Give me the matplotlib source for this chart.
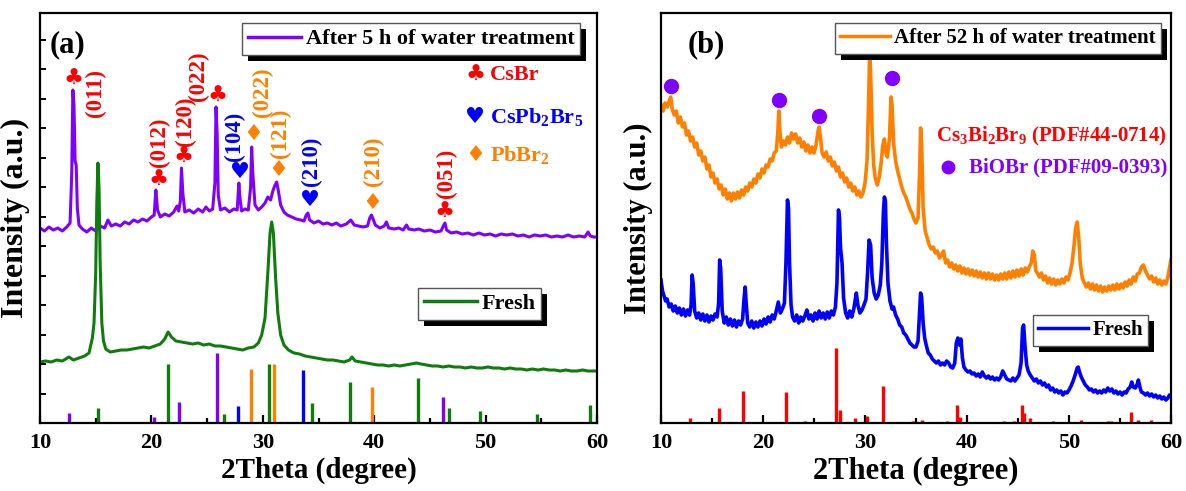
import matplotlib
matplotlib.use("Agg")
import matplotlib.pyplot as plt
from matplotlib.ticker import MultipleLocator, NullFormatter
from matplotlib.patches import Rectangle
from matplotlib.transforms import IdentityTransform

plt.rcParams['font.family'] = ['Liberation Serif', 'DejaVu Sans']
plt.rcParams['font.weight'] = 'bold'
plt.rcParams['mathtext.fontset'] = 'custom'
plt.rcParams['mathtext.rm'] = 'Liberation Serif:bold'
plt.rcParams['mathtext.bf'] = 'Liberation Serif:bold'
plt.rcParams['mathtext.it'] = 'Liberation Serif:bold'

PURPLE = '#7F00FF'
GREEN = '#0E7D0E'
ORANGE = '#FF8000'
BLUE = '#0000FF'
RED = '#FF0000'
SYMFONT = ['DejaVu Sans']

# ---------------- Panel (a) data ----------------
a_water_x = [10.0, 10.4, 10.8, 11.2, 11.6, 12.0, 12.4, 12.7, 12.85, 12.95, 13.05, 13.15, 13.25, 13.35, 13.5,
             13.8, 14.2, 14.6, 15.0, 15.4, 15.8, 16.1, 16.4, 16.8, 17.2, 17.6, 18.0, 18.4, 18.8, 19.2, 19.6,
             20.0, 20.25, 20.4, 20.55, 20.8, 21.2, 21.6, 22.0, 22.3, 22.45, 22.6, 22.7, 22.82, 23.0, 23.4,
             23.8, 24.2, 24.6, 24.9, 25.2, 25.5, 25.7, 25.8, 25.9, 26.0, 26.2, 26.6, 27.0, 27.4, 27.7, 27.85,
             27.95, 28.1, 28.4, 28.7, 28.9, 29.0, 29.1, 29.3, 29.6, 29.9, 30.2, 30.45, 30.7, 30.9, 31.1, 31.25,
             31.4, 31.6, 31.9, 32.2, 32.6, 33.0, 33.4, 33.7, 33.9, 34.05, 34.2, 34.6, 35.0, 35.4, 35.8, 36.2,
             36.6, 37.0, 37.5, 37.9, 38.2, 38.6, 39.0, 39.4, 39.6, 39.75, 39.9, 40.1, 40.5, 40.9, 41.1, 41.3,
             41.8, 42.2, 42.6, 42.9, 43.1, 43.6, 44.0, 44.5, 45.0, 45.5, 46.0, 46.2, 46.35, 46.5, 46.9, 47.4,
             47.9, 48.4, 48.9, 49.4, 49.9, 50.4, 50.9, 51.4, 51.9, 52.4, 52.9, 53.4, 53.9, 54.4, 54.9, 55.4,
             55.9, 56.4, 56.9, 57.4, 57.9, 58.4, 58.9, 59.2, 59.4, 59.7, 60.0]
a_water_y = [195, 192, 196, 193, 195, 192, 196, 200, 250, 333, 318, 262, 258, 215, 198,
             194, 191, 195, 192, 197, 195, 203, 197, 199, 197, 201, 199, 203, 201, 204, 202,
             206, 208, 233, 213, 206, 209, 207, 211, 217, 212, 222, 255, 230, 211, 213,
             210, 214, 211, 216, 212, 214, 240, 316, 290, 228, 213, 215, 211, 214, 213, 240,
             225, 212, 214, 213, 235, 276, 250, 218, 213, 216, 220, 226, 223, 232, 238, 241,
             232, 218, 211, 208, 206, 204, 203, 202, 208, 210, 203, 200, 202, 199, 200, 198,
             200, 197, 199, 203, 198, 197, 196, 197, 205, 208, 204, 198, 195, 197, 201, 195,
             194, 195, 193, 198, 194, 193, 194, 192, 193, 191, 192, 197, 200, 193, 190, 191,
             189, 190, 188, 190, 188, 189, 187, 189, 188, 189, 187, 188, 186, 188, 187, 188,
             186, 187, 186, 188, 186, 187, 186, 191, 187, 186, 186]

a_fresh_x = [10.0, 10.5, 11.0, 11.5, 12.0, 12.6, 13.0, 13.5, 14.0, 14.4, 14.7, 14.85, 15.0, 15.1, 15.2,
             15.3, 15.4, 15.55, 15.7, 15.9, 16.3, 16.8, 17.3, 17.8, 18.3, 18.8, 19.3, 19.8, 20.3, 20.8,
             21.2, 21.5, 21.8, 22.2, 22.7, 23.2, 23.7, 24.2, 24.7, 25.2, 25.7, 26.2, 26.7, 27.2, 27.7,
             28.2, 28.7, 29.2, 29.6, 29.9, 30.2, 30.45, 30.65, 30.8, 30.95, 31.15, 31.35, 31.6, 31.9,
             32.3, 32.8, 33.3, 33.8, 34.3, 34.8, 35.3, 35.8, 36.3, 36.8, 37.3, 37.8, 38.0, 38.3, 38.8,
             39.3, 39.8, 40.3, 40.8, 41.3, 41.8, 42.3, 42.8, 43.3, 43.8, 44.2, 44.7, 45.2, 45.7, 46.2,
             46.7, 47.2, 47.7, 48.2, 48.7, 49.2, 49.7, 50.2, 50.7, 51.2, 51.7, 52.2, 52.7, 53.2, 53.7,
             54.2, 54.7, 55.2, 55.7, 56.2, 56.7, 57.2, 57.7, 58.2, 58.7, 59.2, 59.7, 60.0]
a_fresh_y = [61, 62, 61, 63, 62, 66, 63, 65, 67, 70, 85, 100, 150, 220, 260,
             235, 160, 100, 82, 74, 71, 72, 73, 73, 74, 75, 76, 75, 77, 79,
             84, 91, 86, 82, 81, 80, 79, 80, 78, 79, 77, 77, 76, 75, 74,
             73, 75, 76, 80, 88, 105, 150, 190, 201, 190, 145, 110, 88, 78,
             73, 70, 69, 67, 66, 65, 64, 63, 63, 62, 61, 63, 66, 62, 61,
             60, 59, 58, 58, 57, 58, 57, 58, 59, 60, 59, 58, 57, 57, 56,
             57, 56, 56, 55, 56, 55, 55, 56, 55, 55, 54, 55, 54, 54, 53,
             54, 53, 54, 53, 53, 52, 53, 52, 52, 53, 52, 52, 52]

# reference sticks (panel a)
a_ref_purple_x = [12.6, 20.2, 22.5, 25.9, 46.2]
a_ref_purple_h = [10, 6, 21, 70, 26]
a_ref_green_x = [15.2, 21.5, 26.5, 30.6, 34.4, 37.8, 43.9, 46.7, 49.5, 54.6, 59.4]
a_ref_green_h = [15, 59, 9, 59, 20, 41, 45, 15, 12, 9, 18]
a_ref_blue_x = [27.8, 33.65]
a_ref_blue_h = [17, 53]
a_ref_orange_x = [28.9, 31.0, 39.8]
a_ref_orange_h = [54, 59, 36]

# peak markers (symbol, x, y, color) and hkl labels (text, x, y, color)
a_marks = [('♣', 12.96, 344, RED), ('♣', 20.6, 243, RED), ('♣', 22.84, 266, RED),
           ('♣', 25.95, 327, RED), ('♥', 27.95, 251, BLUE), ('♦', 29.15, 289, ORANGE),
           ('♦', 31.4, 253, ORANGE), ('♥', 34.24, 223, BLUE), ('♦', 39.8, 220, ORANGE),
           ('♣', 46.35, 211, RED)]
a_hkl = [('(011)', 14.94, 330, RED), ('(012)', 20.75, 281, RED), ('(120)', 23.1, 302, RED),
         ('(022)', 24.2, 347, RED), ('(104)', 27.45, 287, BLUE), ('(022)', 29.95, 331, ORANGE),
         ('(121)', 31.55, 290, ORANGE), ('(210)', 34.4, 262, BLUE), ('(210)', 39.9, 262, ORANGE),
         ('(051)', 46.45, 250, RED)]
a_phase_syms = [('♣', 348, RED), ('♥', 306, BLUE), ('♦', 268, ORANGE)]
a_phase_names = [('CsBr', 348, RED), ('CsPb$_2$Br$_5$', 306, BLUE), ('PbBr$_2$', 268, ORANGE)]

# ---------------- Panel (b) data ----------------
b_water_x = [10.0, 10.2, 10.4, 10.6, 10.8, 10.95, 11.1, 11.3, 11.5, 11.7, 11.9, 12.1, 12.3, 12.5, 12.7, 12.9,
             13.1, 13.3, 13.5, 13.7, 13.9, 14.1, 14.3, 14.5, 14.7, 14.9, 15.1, 15.3, 15.5, 15.7, 15.9, 16.1,
             16.3, 16.5, 16.7, 16.9, 17.1, 17.3, 17.5, 17.7, 17.9, 18.1, 18.3, 18.5, 18.7, 18.9, 19.1, 19.3,
             19.5, 19.7, 19.9, 20.1, 20.3, 20.5, 20.7, 20.9, 21.1, 21.3, 21.45, 21.55, 21.65, 21.8, 22.0,
             22.2, 22.4, 22.6, 22.8, 23.0, 23.2, 23.4, 23.6, 23.8, 24.0, 24.2, 24.4, 24.6, 24.8, 25.0, 25.2,
             25.4, 25.5, 25.65, 25.8, 26.0, 26.2, 26.4, 26.6, 26.8, 27.0, 27.2, 27.4, 27.6, 27.8, 28.0, 28.2,
             28.4, 28.6, 28.8, 29.0, 29.2, 29.4, 29.6, 29.8, 30.0, 30.2, 30.35, 30.45, 30.55, 30.7, 30.85,
             31.0, 31.2, 31.4, 31.6, 31.75, 31.9, 32.05, 32.2, 32.4, 32.55, 32.65, 32.8, 33.0, 33.2, 33.4,
             33.6, 33.8, 34.0, 34.2, 34.4, 34.6, 34.8, 35.0, 35.2, 35.35, 35.45, 35.55, 35.7, 35.9, 36.1,
             36.3, 36.5, 36.7, 36.9, 37.1, 37.3, 37.5, 37.7, 37.9, 38.1, 38.3, 38.5, 38.7, 38.9, 39.1, 39.3,
             39.5, 39.7, 39.9, 40.1, 40.3, 40.5, 40.7, 40.9, 41.1, 41.3, 41.5, 41.7, 41.9, 42.1, 42.3, 42.5,
             42.7, 42.9, 43.1, 43.3, 43.5, 43.7, 43.9, 44.1, 44.3, 44.5, 44.7, 44.9, 45.1, 45.3, 45.5, 45.7,
             45.9, 46.1, 46.3, 46.45, 46.6, 46.75, 46.9, 47.1, 47.3, 47.5, 47.7, 47.9, 48.1, 48.3, 48.5, 48.7,
             48.9, 49.1, 49.3, 49.5, 49.7, 49.9, 50.1, 50.3, 50.5, 50.65, 50.8, 50.95, 51.1, 51.3, 51.5, 51.7,
             51.9, 52.1, 52.3, 52.5, 52.7, 52.9, 53.1, 53.3, 53.5, 53.7, 53.9, 54.1, 54.3, 54.5, 54.7, 54.9,
             55.1, 55.3, 55.5, 55.7, 55.9, 56.1, 56.3, 56.5, 56.7, 56.9, 57.1, 57.3, 57.5, 57.7, 57.9, 58.1,
             58.3, 58.5, 58.7, 58.9, 59.1, 59.3, 59.5, 59.7, 59.85, 60.0]
b_water_y = [318, 312, 320, 316, 322, 326, 314, 308, 312, 300, 306, 296, 300, 288, 292, 282,
             286, 276, 280, 268, 272, 262, 266, 254, 258, 246, 250, 240, 244, 234, 238, 228,
             234, 224, 230, 222, 230, 224, 231, 225, 233, 228, 236, 232, 240, 236, 244, 240,
             249, 245, 254, 250, 258, 256, 264, 262, 270, 272, 290, 312, 292, 276, 282,
             278, 286, 280, 290, 284, 289, 280, 285, 276, 281, 272, 278, 270, 276, 270, 278,
             292, 296, 284, 270, 266, 271, 262, 266, 257, 261, 252, 256, 246, 250, 241, 245,
             236, 240, 232, 236, 228, 232, 226, 230, 240, 262, 320, 368, 350, 290, 258,
             245, 238, 246, 262, 278, 284, 270, 266, 285, 326, 318, 280, 262, 252, 244,
             236, 230, 226, 220, 214, 210, 204, 200, 205, 250, 295, 280, 215, 192, 185,
             178, 174, 176, 170, 172, 165, 168, 172, 160, 163, 156, 160, 154, 158, 152, 157,
             150, 155, 149, 154, 148, 153, 147, 152, 146, 151, 145, 150, 144, 150, 144, 149,
             143, 148, 143, 149, 144, 150, 144, 151, 145, 152, 146, 153, 147, 154, 148, 155,
             151, 156, 160, 172, 168, 152, 150, 146, 150, 143, 147, 140, 145, 139, 144, 138,
             143, 139, 144, 140, 146, 143, 150, 160, 178, 195, 201, 186, 160, 145, 140, 136,
             140, 134, 139, 133, 138, 132, 137, 131, 136, 132, 137, 133, 138, 133, 139, 134,
             139, 135, 141, 137, 143, 139, 146, 142, 149, 150, 156, 158, 152, 148, 144, 147,
             141, 145, 139, 143, 138, 142, 139, 146, 155, 163]

b_fresh_x = [10.0, 10.15, 10.3, 10.45, 10.6, 10.8, 11.0, 11.2, 11.4, 11.6, 11.8, 12.0, 12.2, 12.4, 12.6,
             12.8, 12.95, 13.05, 13.15, 13.3, 13.5, 13.7, 13.9, 14.1, 14.3, 14.5, 14.7, 14.9, 15.1, 15.3,
             15.5, 15.65, 15.75, 15.85, 16.0, 16.2, 16.4, 16.6, 16.8, 17.0, 17.2, 17.4, 17.6, 17.8, 18.0,
             18.15, 18.25, 18.35, 18.5, 18.7, 18.9, 19.1, 19.3, 19.5, 19.7, 19.9, 20.1, 20.3, 20.5, 20.7,
             20.9, 21.1, 21.3, 21.5, 21.7, 21.9, 22.1, 22.25, 22.4, 22.5, 22.6, 22.75, 22.9, 23.1, 23.3,
             23.5, 23.7, 23.9, 24.1, 24.3, 24.5, 24.7, 24.9, 25.1, 25.3, 25.5, 25.7, 25.9, 26.1, 26.3,
             26.5, 26.7, 26.9, 27.1, 27.25, 27.4, 27.5, 27.6, 27.75, 27.9, 28.1, 28.3, 28.5, 28.7, 28.9,
             29.05, 29.15, 29.3, 29.5, 29.7, 29.9, 30.1, 30.25, 30.4, 30.55, 30.7, 30.9, 31.1, 31.3, 31.5,
             31.65, 31.8, 31.9, 32.0, 32.1, 32.25, 32.45, 32.65, 32.8, 33.0, 33.2, 33.4, 33.6, 33.8, 34.0,
             34.2, 34.4, 34.6, 34.8, 35.0, 35.2, 35.35, 35.45, 35.55, 35.7, 35.85, 36.0, 36.2, 36.4, 36.6,
             36.8, 37.0, 37.2, 37.4, 37.6, 37.8, 38.0, 38.2, 38.4, 38.6, 38.8, 38.95, 39.1, 39.25, 39.4,
             39.55, 39.7, 39.9, 40.1, 40.3, 40.5, 40.7, 40.9, 41.1, 41.3, 41.5, 41.7, 41.9, 42.1, 42.3,
             42.5, 42.7, 42.9, 43.1, 43.3, 43.5, 43.7, 43.9, 44.1, 44.3, 44.5, 44.7, 44.9, 45.1, 45.3,
             45.45, 45.55, 45.7, 45.85, 46.0, 46.2, 46.4, 46.6, 46.8, 47.0, 47.2, 47.4, 47.6, 47.8, 48.0,
             48.2, 48.4, 48.6, 48.8, 49.0, 49.2, 49.4, 49.6, 49.8, 50.0, 50.2, 50.4, 50.6, 50.8, 50.9,
             51.0, 51.2, 51.4, 51.6, 51.8, 52.0, 52.2, 52.4, 52.6, 52.8, 53.0, 53.2, 53.4, 53.6, 53.8,
             54.0, 54.2, 54.4, 54.6, 54.8, 55.0, 55.2, 55.4, 55.6, 55.8, 56.0, 56.15, 56.3, 56.5, 56.7,
             56.8, 56.95, 57.1, 57.3, 57.5, 57.7, 57.9, 58.1, 58.3, 58.5, 58.7, 58.9, 59.1, 59.3, 59.5,
             59.7, 59.85, 60.0]
b_fresh_y = [143, 132, 127, 122, 124, 116, 119, 112, 117, 110, 115, 108, 114, 107, 113,
             108, 118, 148, 140, 112, 105, 110, 103, 109, 102, 108, 101, 107, 103, 109,
             106, 120, 163, 155, 112, 100, 106, 98, 104, 97, 103, 96, 102, 98, 104,
             125, 136, 120, 100, 96, 102, 95, 101, 96, 102, 97, 104, 99, 106, 101,
             108, 104, 112, 121, 110, 114, 120, 160, 223, 215, 160, 118, 106, 102, 108,
             100, 106, 102, 107, 113, 104, 108, 102, 110, 104, 112, 105, 110, 104, 111,
             105, 112, 108, 116, 140, 213, 205, 175, 160, 125, 110, 105, 112, 106, 114,
             124, 130, 118, 110, 113, 118, 124, 150, 183, 178, 145, 130, 124, 128, 138,
             160, 210, 226, 222, 180, 140, 122, 114, 116, 108, 104, 98, 96, 90, 88,
             84, 80, 78, 76, 76, 82, 110, 130, 126, 100, 85, 78, 70, 68, 64,
             62, 60, 62, 58, 60, 58, 62, 60, 56, 55, 60, 80, 85, 78, 84,
             65, 56, 53, 51, 52, 49, 50, 47, 49, 46, 51, 47, 45, 47, 44,
             46, 43, 45, 43, 46, 52, 48, 44, 43, 42, 45, 42, 45, 48, 60,
             95, 98, 75, 58, 52, 48, 45, 42, 44, 40, 42, 38, 40, 36, 38,
             33, 35, 31, 33, 30, 32, 28, 31, 30, 33, 37, 42, 48, 55, 56,
             52, 46, 42, 38, 36, 33, 34, 31, 33, 30, 32, 30, 33, 31, 35,
             32, 34, 30, 32, 29, 31, 28, 31, 30, 34, 36, 41, 36, 35, 39,
             43, 36, 31, 30, 28, 30, 27, 29, 26, 28, 25, 27, 24, 26, 23,
             25, 28, 27]

# reference sticks (panel b): Cs3Bi2Br9
b_ref_x = [12.8, 15.7, 18.0, 22.25, 24.1, 27.2, 27.5, 29.0, 30.2, 31.8, 34.7, 35.6, 38.0, 39.0, 39.3,
           43.6, 44.6, 45.4, 45.6, 46.2, 48.4, 51.2, 53.8, 54.1, 56.1, 56.8, 58.0]
b_ref_h = [5, 15, 32, 31, 2, 75, 13, 5, 7, 37, 2, 3, 2, 18, 6,
           2, 2, 18, 10, 5, 2, 3, 2, 2, 11, 3, 3]

# BiOBr markers
b_dot_x = [11.0, 21.55, 25.5, 32.6]
b_dot_y = [337, 323, 307, 345]

# ---------------- Figure ----------------
W, H = 1186, 491
fig = plt.figure(figsize=(W / 100, H / 100), dpi=100)
ax1 = fig.add_axes([40 / W, (H - 423) / H, 557 / W, 410 / H])
ax2 = fig.add_axes([661 / W, (H - 423) / H, 510 / W, 410 / H])

for ax in (ax1, ax2):
    ax.set_xlim(10, 60)
    ax.set_ylim(0, 410)
    ax.xaxis.set_major_locator(MultipleLocator(10))
    ax.xaxis.set_minor_locator(MultipleLocator(5))
    ax.tick_params(axis='x', which='major', direction='in', length=6, width=1.6, pad=7,
                   labelsize=16, top=False)
    ax.tick_params(axis='x', which='minor', direction='in', length=3.5, width=1.6, top=False)
    for s in ax.spines.values():
        s.set_linewidth(1.6)
    for lab in ax.get_xticklabels():
        lab.set_fontweight('bold')

# panel a y ticks (no labels)
ax1.yaxis.set_major_locator(MultipleLocator(29.5))
ax1.yaxis.set_major_formatter(NullFormatter())
ax1.tick_params(axis='y', which='major', direction='in', length=4.5, width=1.4, right=False)
ax2.set_yticks([])

# ---- panel a ----
l_water_a, = ax1.plot(a_water_x, a_water_y, color=PURPLE, lw=2.2)
l_fresh_a, = ax1.plot(a_fresh_x, a_fresh_y, color=GREEN, lw=2.2)
ax1.vlines(a_ref_purple_x, 0, a_ref_purple_h, colors=PURPLE, lw=2.4)
ax1.vlines(a_ref_green_x, 0, a_ref_green_h, colors=GREEN, lw=2.4)
ax1.vlines(a_ref_blue_x, 0, a_ref_blue_h, colors=BLUE, lw=2.4)
ax1.vlines(a_ref_orange_x, 0, a_ref_orange_h, colors=ORANGE, lw=2.4)

for sym, x, y, c in a_marks:
    ax1.text(x, y, sym, color=c, fontsize=16, ha='center', va='center', family=SYMFONT)
for t, x, y, c in a_hkl:
    ax1.text(x, y, t, color=c, fontsize=16.5, ha='center', va='center', rotation=90, fontweight='bold')
for sym, y, c in a_phase_syms:
    ax1.text(49.05, y, sym, color=c, fontsize=16, ha='center', va='center', family=SYMFONT)
for t, y, c in a_phase_names:
    ax1.text(50.4, y, t, color=c, fontsize=16, ha='left', va='center', fontweight='bold')

ax1.text(0.018, 0.922, '(a)', transform=ax1.transAxes, fontsize=22, fontweight='bold',
         ha='left', va='center')
ax1.set_xlabel('2Theta (degree)', fontsize=21, fontweight='bold', labelpad=3)
ax1.set_ylabel('Intensity (a.u.)', fontsize=23, fontweight='bold', labelpad=4)

leg_kw = dict(frameon=True, fancybox=False, framealpha=1, edgecolor='#555555',
              borderaxespad=0, borderpad=0.25, handlelength=2.4, handletextpad=0.2)
leg_a1 = ax1.legend([l_water_a], ['After 5 h of water treatment'], loc='upper right',
                    bbox_to_anchor=(0.9695, 0.975), prop={'size': 16, 'weight': 'bold'}, **leg_kw)
ax1.add_artist(leg_a1)
leg_a2 = ax1.legend([l_fresh_a], ['Fresh'], loc='upper right',
                    bbox_to_anchor=(0.8995, 0.329), prop={'size': 16, 'weight': 'bold'}, **leg_kw)

# ---- panel b ----
l_water_b, = ax2.plot(b_water_x, b_water_y, color=ORANGE, lw=2.6)
l_fresh_b, = ax2.plot(b_fresh_x, b_fresh_y, color=BLUE, lw=2.6)
ax2.vlines(b_ref_x, 0, b_ref_h, colors=RED, lw=2.4)
ax2.plot(b_dot_x, b_dot_y, 'o', color=PURPLE, ms=10, mec=PURPLE)

ax2.text(0.992, 0.698, 'Cs$_3$Bi$_2$Br$_9$ (PDF#44-0714)', transform=ax2.transAxes, color=RED,
         fontsize=15, fontweight='bold', ha='right', va='center')
ax2.text(0.992, 0.622, 'BiOBr (PDF#09-0393)', transform=ax2.transAxes, color=PURPLE,
         fontsize=15, fontweight='bold', ha='right', va='center')
ax2.plot([0.563], [0.624], 'o', color=PURPLE, ms=9, transform=ax2.transAxes, clip_on=False)
ax2.text(0.053, 0.922, '(b)', transform=ax2.transAxes, fontsize=22, fontweight='bold',
         ha='left', va='center')
ax2.set_xlabel('2Theta (degree)', fontsize=22, fontweight='bold', labelpad=3)
ax2.set_ylabel('Intensity (a.u.)', fontsize=22, fontweight='bold', labelpad=6)

leg_b1 = ax2.legend([l_water_b], ['After 52 h of water treatment'], loc='upper right',
                    bbox_to_anchor=(0.980, 0.975), prop={'size': 15, 'weight': 'bold'}, **leg_kw)
ax2.add_artist(leg_b1)
leg_b2 = ax2.legend([l_fresh_b], ['Fresh'], loc='upper right',
                    bbox_to_anchor=(0.955, 0.263), prop={'size': 15, 'weight': 'bold'}, **leg_kw)

for leg in (leg_a1, leg_a2, leg_b1, leg_b2):
    leg.get_frame().set_linewidth(1.0)
    for ln in leg.get_lines():
        ln.set_linewidth(2.5)

# black offset shadows behind legend boxes
fig.canvas.draw()
for ax, leg in ((ax1, leg_a1), (ax1, leg_a2), (ax2, leg_b1), (ax2, leg_b2)):
    bb = leg.get_frame().get_window_extent()
    sh = Rectangle((bb.x0 + 6, bb.y0 - 6), bb.width, bb.height, transform=IdentityTransform(),
                   facecolor='black', edgecolor='none', zorder=4.9, clip_on=False)
    ax.add_patch(sh)

fig.savefig('out.png', dpi=100)
